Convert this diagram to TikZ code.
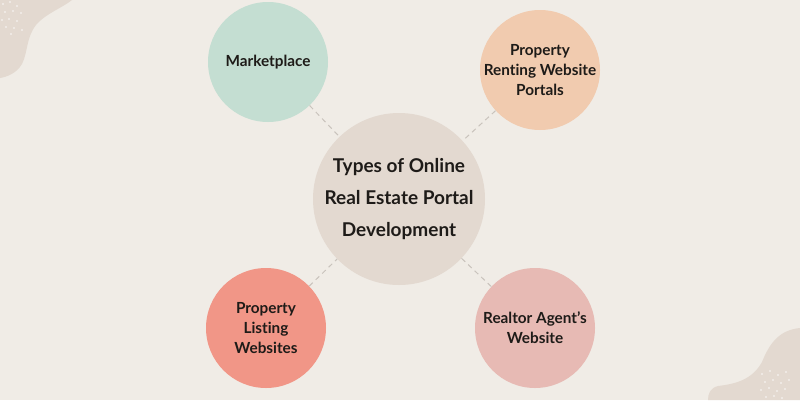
\documentclass[tikz,border=0pt]{standalone}
\usepackage{fontspec}
\setmainfont{Lato}[Ligatures=NoCommon]
\definecolor{paper}{HTML}{F0ECE6}
\definecolor{sand}{HTML}{E3D9D0}
\definecolor{mint}{HTML}{C4DED2}
\definecolor{peach}{HTML}{F1CBAF}
\definecolor{salmon}{HTML}{F19687}
\definecolor{rose}{HTML}{E7BAB4}
\definecolor{ink}{HTML}{1E1B18}
\definecolor{linkgray}{HTML}{C9C3BC}
\tikzset{
  bubble/.style={circle, inner sep=-40pt, minimum size=120pt, align=center,
    text=ink, font=\bfseries\fontsize{15.3}{20}\selectfont},
  hub/.style={circle, inner sep=-40pt, minimum size=172pt, align=center, fill=sand,
    text=ink, font=\bfseries\fontsize{19}{32}\selectfont},
  link/.style={draw=linkgray, line width=1pt, dash pattern=on 5pt off 4pt}
}
\begin{document}
\begin{tikzpicture}[x=1pt,y=-1pt]
        \fill[paper] (0,0) rectangle (800,400);
        \useasboundingbox (0,0) rectangle (800,400);
        % corner blobs
        \fill[sand] (0,0) -- (72,0) .. controls (62,8) and (45,14) .. (36,25)
          .. controls (26,38) and (28,52) .. (22,64) .. controls (16,74) and (6,77) .. (0,78) -- cycle;
        \fill[sand] (800,328) .. controls (780,330) and (770,342) .. (762,362)
          .. controls (752,380) and (735,384) .. (718,386) .. controls (710,388) and (708,394) .. (708,400) -- (800,400) -- cycle;
        \foreach \x/\y in {3/4,10/2,17/6,5/12,13/11,21/13,2/20,9/19,17/21,6/27,14/28,22/30,11/34}
          \fill[white!85!sand] (\x,\y) circle (0.9pt);
        \foreach \x/\y in {762/374,770/371,778/375,786/372,765/382,773/380,781/383,789/380,761/390,769/388,777/391,785/389,766/397,774/396,782/398}
          \fill[white!85!sand] (\x,\y) circle (0.9pt);
        % circles
        \node[hub] (types) at (399,199) {\rule{0pt}{14pt}Types of Online\\Real Estate Portal\\Development};
        \node[bubble, fill=mint] (market) at (268,62) {Marketplace};
        \node[bubble, fill=peach] (renting) at (540,70) {Property\\Renting Website\\Portals};
        \node[bubble, fill=salmon] (listing) at (266,328) {Property\\Listing\\Websites};
        \node[bubble, fill=rose] (realtor) at (535,328) {Realtor Agent’s\\Website};
        % dashed links
        \draw[link] (market) -- (types);
        \draw[link] (renting) -- (types);
        \draw[link] (listing) -- (types);
        \draw[link] (realtor) -- (types);
\end{tikzpicture}
\end{document}
